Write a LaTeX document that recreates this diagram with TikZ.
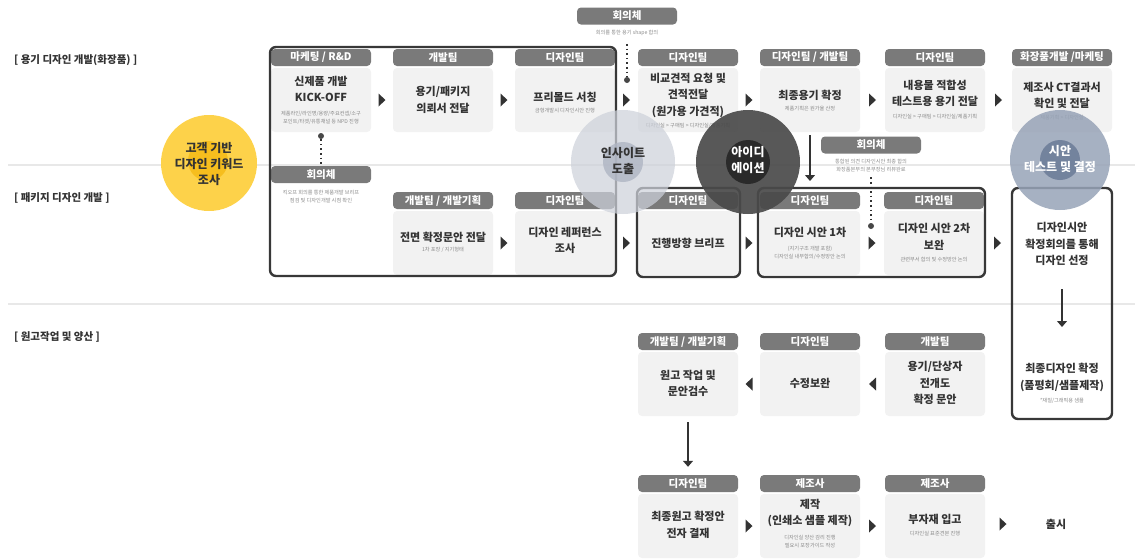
\documentclass[tikz,border=0pt]{standalone}
\usepackage{fontspec}
\setmainfont{Noto Sans CJK KR}
\usetikzlibrary{calc,arrows.meta}
\definecolor{hdrc}{HTML}{7A7A7A}
\definecolor{bodc}{HTML}{F2F2F2}
\definecolor{txtc}{HTML}{333333}
\definecolor{subc}{HTML}{8A8A8A}
\definecolor{framec}{HTML}{383838}
\definecolor{sepc}{HTML}{E8E8E8}
\definecolor{yelo}{HTML}{FDD24A}
\definecolor{yeli}{HTML}{F6BE1E}
\definecolor{insO}{HTML}{CDD1DA}
\definecolor{insI}{HTML}{AFB5C3}
\definecolor{ideO}{HTML}{4A4A4A}
\definecolor{ideI}{HTML}{2A2A2A}
\definecolor{tstO}{HTML}{97A3B7}
\definecolor{tstI}{HTML}{6E7E99}
\tikzset{
 hdr/.style={fill=hdrc, rounded corners=4pt, minimum width=100pt, minimum height=17pt, inner sep=0pt, text=white, font=\bfseries\fontsize{10.5}{12}\selectfont},
 bod/.style={fill=bodc, rounded corners=4pt, minimum width=100pt, minimum height=64pt, inner sep=0pt},
 mt/.style={align=center, text=txtc, font=\bfseries\fontsize{11}{16.5}\selectfont, inner sep=0pt},
 st/.style={align=center, text=subc, font=\fontsize{5.2}{8.5}\selectfont, inner sep=0pt},
 frm/.style={draw=framec, line width=2.4pt, rounded corners=6pt, inner sep=0pt},
 sec/.style={anchor=west, text=txtc, font=\bfseries\fontsize{10.5}{12}\selectfont, inner sep=0pt},
 tri/.style={fill=txtc},
 varr/.style={draw=txtc, line width=1.2pt, -{Triangle[width=10pt,length=6pt]}},
 dotl/.style={draw=txtc, line width=1.6pt, dash pattern=on 1.6pt off 3pt},
 dotnode/.style={circle, fill=txtc!90, minimum size=6pt, inner sep=0pt},
 ctext/.style={align=center, font=\bfseries\fontsize{12}{16}\selectfont, inner sep=0pt},
 sepline/.style={draw=sepc, line width=1.6pt}
}
\newcommand\mkcard[4]{\node[hdr] (#1h) at (#2,#3+8.5) {#4}; \node[bod] (#1) at (#2,#3+19+32) {};}
\newcommand\rtri[1]{\fill[tri] ([shift={(-3.5,-6.5)}]#1) -- ([shift={(3.5,0)}]#1) -- ([shift={(-3.5,6.5)}]#1) -- cycle;}
\newcommand\ltri[1]{\fill[tri] ([shift={(3.5,-6.5)}]#1) -- ([shift={(-3.5,0)}]#1) -- ([shift={(3.5,6.5)}]#1) -- cycle;}
\newcommand\midof[3]{\path ($(#1.east)!.5!(#2.west)$) coordinate (#3);}
\begin{document}
\begin{tikzpicture}[x=1pt,y=-1pt]
\useasboundingbox (0,0) rectangle (1135,558);
% separators
\draw[sepline] (8,165) -- (1135,165);
\draw[sepline] (8,304) -- (1135,304);
% section labels
\node[sec] (s1) at (14,60) {[ 용기 디자인 개발(화장품) ]};
\node[sec] (s2) at (14,198) {[ 패키지 디자인 개발 ]};
\node[sec] (s3) at (14,337) {[ 원고작업 및 양산 ]};

% ---- row 1
\mkcard{c1}{321}{49}{마케팅 / R\&D}
\node[mt] (c1t) at (321,89) {신제품 개발\\KICK-OFF};
\node[st] (c1s) at (321,118) {제품라인/라인명/용량/주요컨셉/소구\\포인트/타겟/유통채널 등 NPD 진행};
\mkcard{c2}{443}{49}{개발팀}
\node[mt] (c2t) at (443,100) {용기/패키지\\의뢰서 전달};
\mkcard{c3}{565}{49}{디자인팀}
\node[mt] (c3t) at (565,97) {프리몰드 서칭};
\node[st] (c3s) at (565,111) {금형개발시 디자인시안 진행};
\mkcard{c4}{688}{49}{디자인팀}
\node[mt] (c4t) at (688,95) {비교견적 요청 및\\견적전달\\(원가용 가견적)};
\node[st] (c4s) at (688,126) {디자인실 > 구매팀 > 디자인실/제품기획};
\mkcard{c5}{810}{49}{디자인팀 / 개발팀}
\node[mt] (c5t) at (810,95) {최종용기 확정};
\node[st] (c5s) at (810,109) {제품기획은 원가율 산정};
\mkcard{c6}{935}{49}{디자인팀}
\node[mt] (c6t) at (935,93.5) {내용물 적합성\\테스트용 용기 전달};
\node[st] (c6s) at (935,117) {디자인실 > 구매팀 > 디자인실/제품기획};
\mkcard{c7}{1062}{49}{화장품개발 /마케팅}
\node[mt] (c7t) at (1062,95.5) {제조사 CT결과서\\확인 및 전달};
\node[st] (c7s) at (1062,118) {제품기획 > 디자인실};

% top meeting
\node[hdr] (m0h) at (627,16) {회의체};
\node[st] (m0s) at (627,33) {회의를 통한 용기 shape 합의};
\node[dotnode] (m0d) at (627,80) {};
\draw[dotl] ([yshift=-8pt]m0s.south) -- (m0d.north);

% left meeting
\node[dotnode] (m1d) at (321,136) {};
\node[hdr] (m1h) at (321,174.5) {회의체};
\node[st] (m1s) at (321,196.5) {킥오프 회의를 통한 제품개발 브리프\\점검 및 디자인개발 시점 확인};
\draw[dotl] (m1d.south) -- (m1h.north);

% ---- row 2
\mkcard{d2}{443}{192}{개발팀 / 개발기획}
\node[mt] (d2t) at (443,237) {전면 확정문안 전달};
\node[st] (d2s) at (443,250) {1차 포장 / 지기형태};
\mkcard{d3}{565}{192}{디자인팀}
\node[mt] (d3t) at (565,240.5) {디자인 레퍼런스\\조사};
\mkcard{d4}{688}{192}{디자인팀}
\node[mt] (d4t) at (688,243) {진행방향 브리프};
\mkcard{d5}{810}{192}{디자인팀}
\node[mt] (d5t) at (810,232) {디자인 시안 1차};
\node[st] (d5s) at (810,253) {(지기구조 개발 포함)\\디자인실 내부합의/수정방안 논의};
\mkcard{d6}{934}{192}{디자인팀}
\node[mt] (d6t) at (934,237) {디자인 시안 2차\\보완};
\node[st] (d6s) at (934,260) {관련부서 합의 및 수정방안 논의};

% frames
\node[frm, minimum width=346pt, minimum height=229pt] (f1) at (443,161.5) {};
\node[frm, minimum width=103pt, minimum height=89pt] (f2) at (688.5,232.5) {};
\node[frm, minimum width=227pt, minimum height=89pt] (f3) at (871.5,232.5) {};
\node[frm, minimum width=100pt, minimum height=231pt] (f4) at (1062,303.5) {};
\node[mt] (f4t) at (1062,244) {디자인시안\\확정회의를 통해\\디자인 선정};
\node[mt] (f4u) at (1062,377.5) {최종디자인 확정\\(품평회/샘플제작)};
\node[st] (f4s) at (1062,401) {*재질/그래픽용 샘플};
\coordinate (f4a) at (1062,289);
\coordinate (f4b) at (1062,327);
\draw[varr] (f4a) -- (f4b);

% mid meeting
\node[hdr] (m2h) at (871,145) {회의체};
\node[st] (m2s) at (871,165.5) {통합된 의견 디자인시안 최종 합의\\화장품본부의 본부장님 리뷰완료};
\node[dotnode] (m2d) at (871,226) {};
\draw[dotl] ([yshift=-5pt]m2s.south) -- (m2d.north);

% arrow from c5 down
\coordinate (v1e) at (810,181);
\draw[varr] ([yshift=-3pt]c5.south) -- (v1e);

% ---- row 3
\mkcard{e4}{688}{333}{개발팀 / 개발기획}
\node[mt] (e4t) at (688,383.5) {원고 작업 및\\문안검수};
\mkcard{e5}{810}{333}{디자인팀}
\node[mt] (e5t) at (810,383) {수정보완};
\mkcard{e6}{935}{333}{개발팀}
\node[mt] (e6t) at (935,383) {용기/단상자\\전개도\\확정 문안};

% ---- row 4
\mkcard{g4}{688}{475}{디자인팀}
\node[mt] (g4t) at (688,525) {최종원고 확정안\\전자 결재};
\mkcard{g5}{810}{475}{제조사}
\node[mt] (g5t) at (810,513) {제작\\(인쇄소 샘플 제작)};
\node[st] (g5s) at (810,541.5) {디자인실 양산 감리 진행\\필요시 포장가이드 작성};
\mkcard{g6}{935}{475}{제조사}
\node[mt] (g6t) at (935,519) {부자재 입고};
\node[st] (g6s) at (935,534) {디자인실 표준견본 진행};
\node[mt] (out) at (1056,524) {출시};
\draw[varr] ([yshift=-6pt]e4.south) -- ([yshift=8pt]g4h.north);

% triangles
\midof{c1}{c2}{a1}\rtri{a1}
\midof{c2}{c3}{a2}\rtri{a2}
\midof{c3}{c4}{a3}\rtri{a3}
\midof{c4}{c5}{a4}\rtri{a4}
\midof{c5}{c6}{a5}\rtri{a5}
\midof{c6}{c7}{a6}\rtri{a6}
\midof{d2}{d3}{b2}\rtri{b2}
\midof{d3}{d4}{b3}\rtri{b3}
\midof{d4}{d5}{b4}\rtri{b4}
\midof{d5}{d6}{b5}\rtri{b5}
\path ($(d6.east)!.5!(f4.west |- d6.east)$) coordinate (b6);
\rtri{b6}
\midof{e4}{e5}{e45}\ltri{e45}
\midof{e5}{e6}{e56}\ltri{e56}
\midof{g4}{g5}{g45}\rtri{g45}
\midof{g5}{g6}{g56}\rtri{g56}
\coordinate (g67) at (1003,524);
\rtri{g67}

% circles
\node[circle, fill=yelo, minimum size=96pt, inner sep=0pt] (yc) at (209,163) {};
\node[circle, fill=yeli, minimum size=40pt, inner sep=0pt] (yci) at (208,161) {};
\node[ctext, text=txtc] (yct) at (209,164) {고객 기반\\디자인 키워드\\조사};

\node[circle, fill=insO, fill opacity=0.72, minimum size=104pt, inner sep=0pt] (ic) at (623,162) {};
\node[circle, fill=insI, fill opacity=0.8, minimum size=40pt, inner sep=0pt] (ici) at (623,162) {};
\node[ctext, text=txtc] (ict) at (623,160.5) {인사이트\\도출};

\node[circle, fill=ideO, fill opacity=0.92, minimum size=104pt, inner sep=0pt] (dc) at (748,162) {};
\node[circle, fill=ideI, minimum size=44pt, inner sep=0pt] (dci) at (748,162) {};
\node[ctext, text=white] (dct) at (748,160.5) {아이디\\에이션};

\node[circle, fill=tstO, fill opacity=0.85, minimum size=100pt, inner sep=0pt] (tc) at (1060,160) {};
\node[circle, fill=tstI, fill opacity=0.9, minimum size=40pt, inner sep=0pt] (tci) at (1060,160) {};
\node[ctext, text=white] (tct) at (1060,159.5) {시안\\테스트 및 결정};
\end{tikzpicture}
\end{document}
